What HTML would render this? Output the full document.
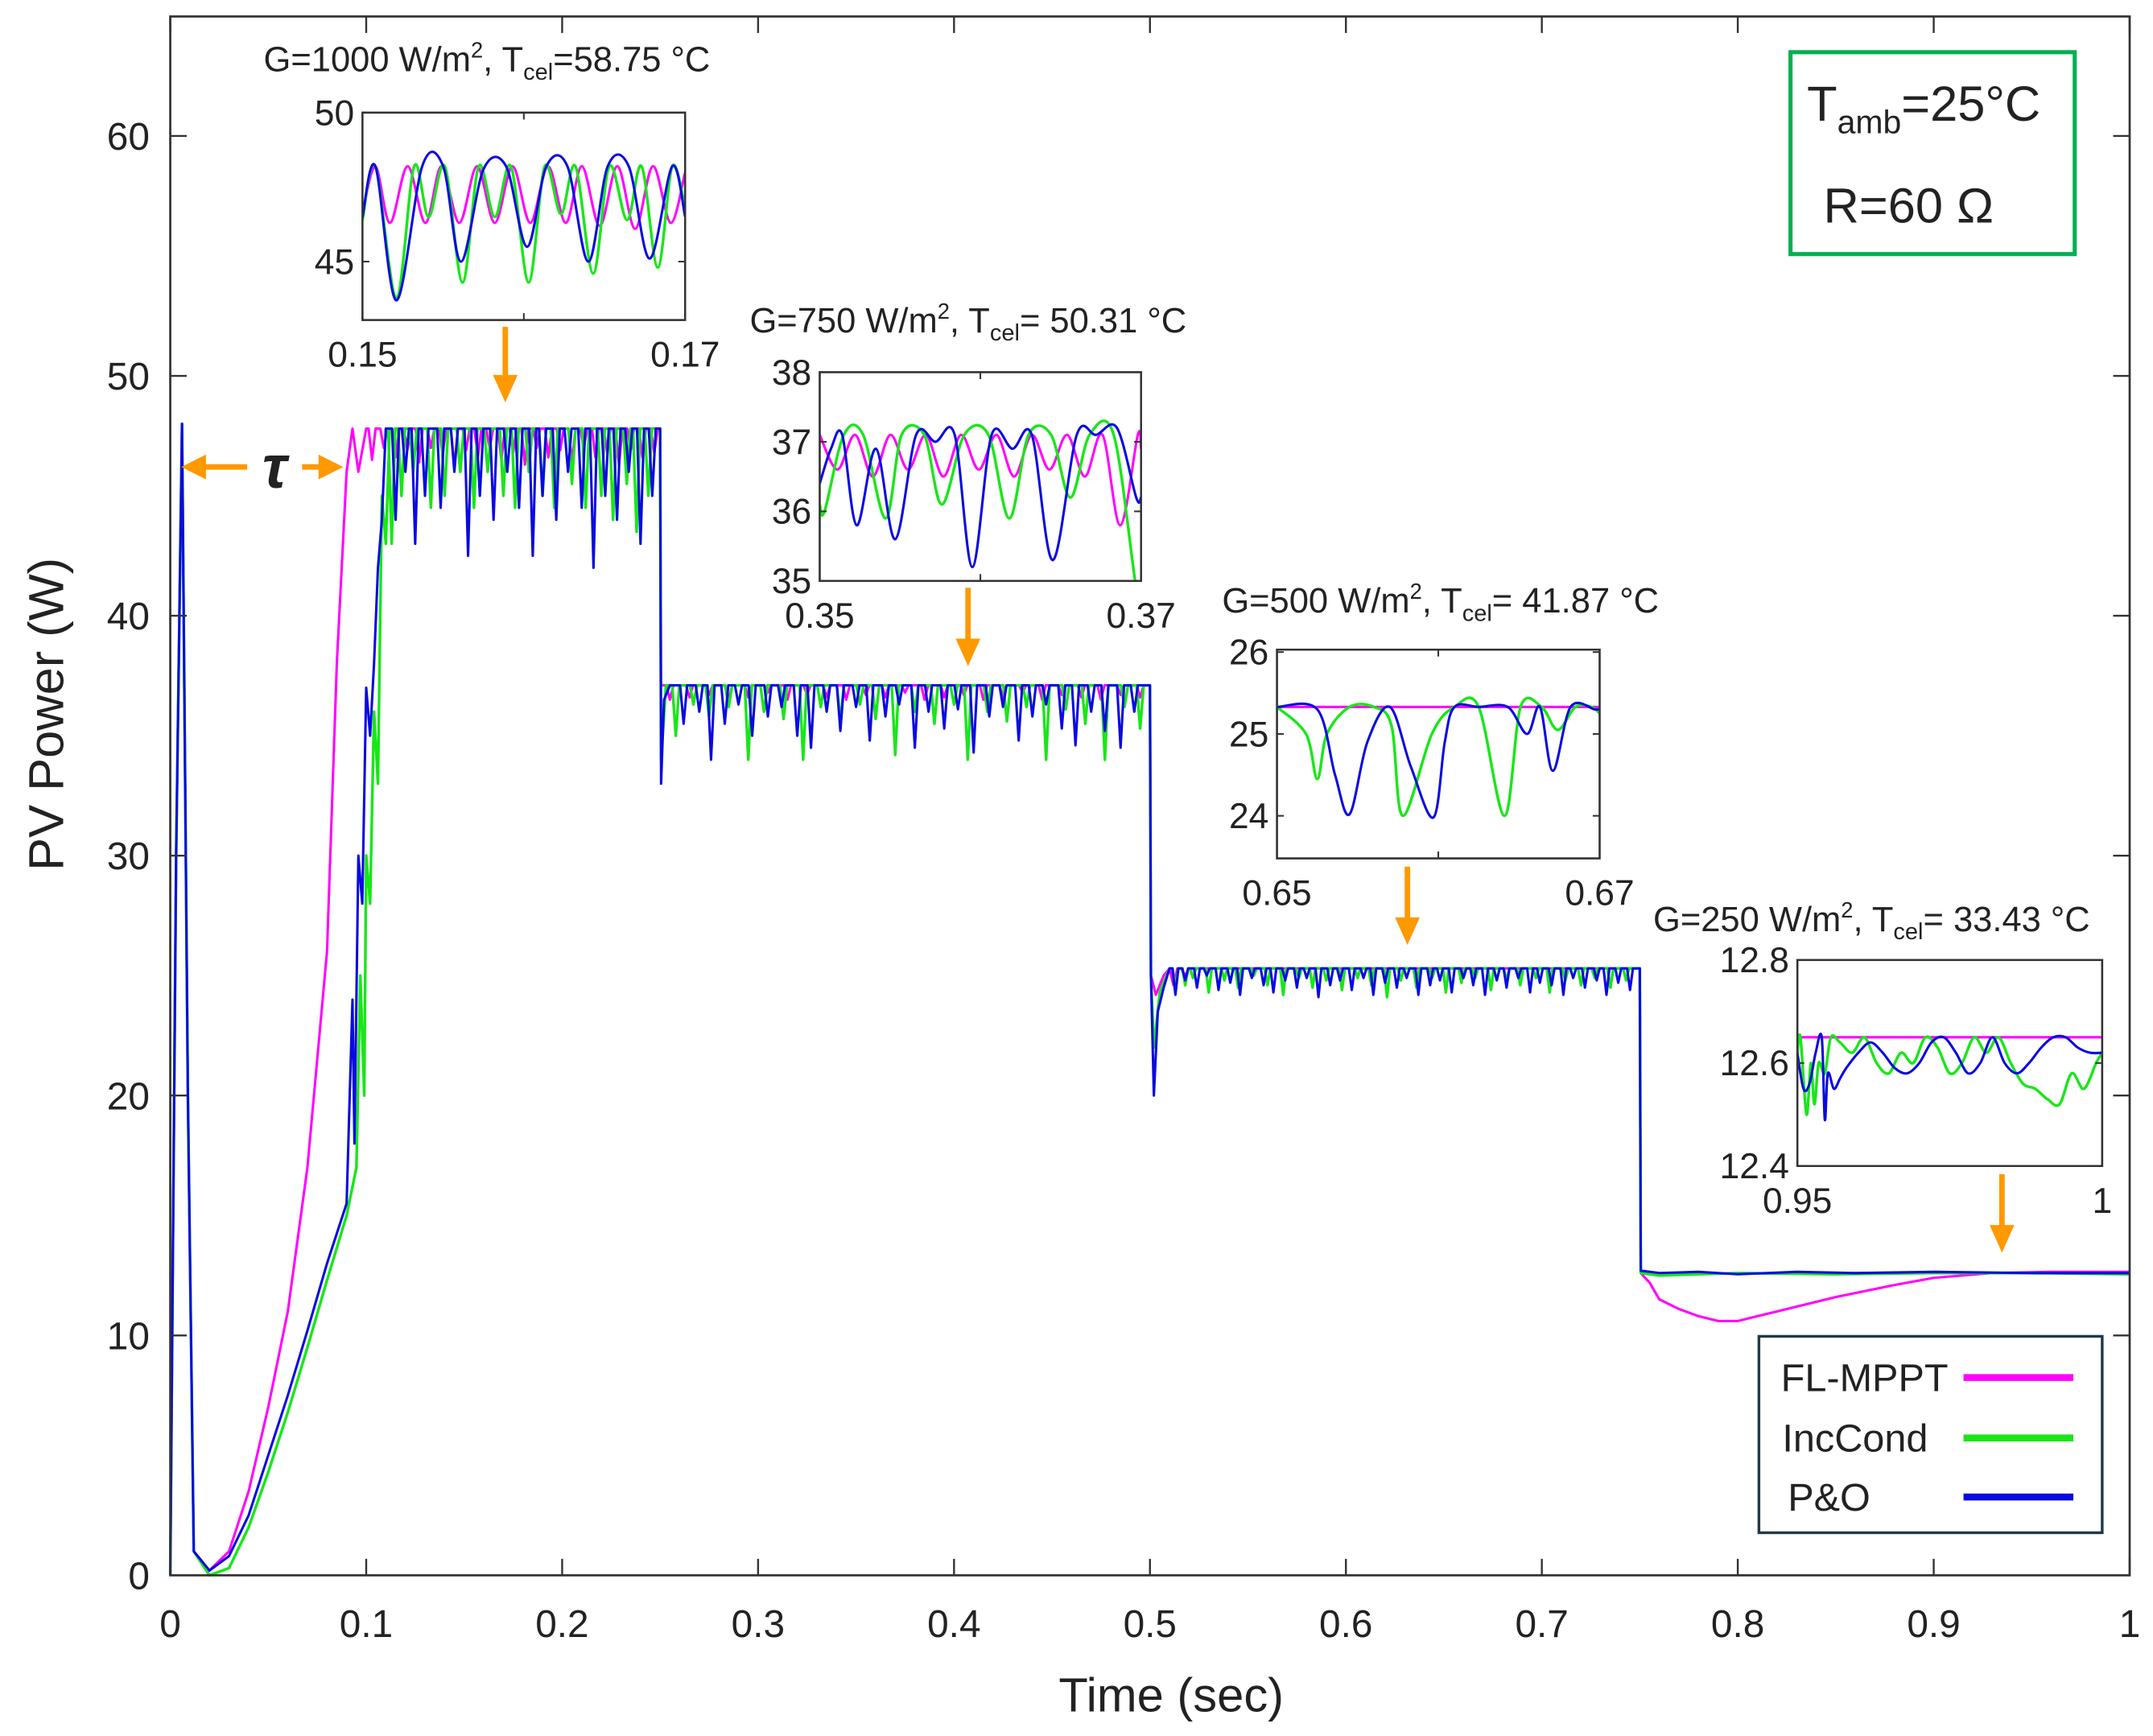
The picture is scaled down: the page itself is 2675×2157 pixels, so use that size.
<!DOCTYPE html>
<html><head><meta charset="utf-8"><style>
html,body{margin:0;padding:0;background:#fff;}
svg{display:block;}
text{font-family:"Liberation Sans",sans-serif;fill:#222;}
</style></head><body>
<svg id="chart" xmlns="http://www.w3.org/2000/svg" width="2675" height="2157" viewBox="0 0 1568 1264" preserveAspectRatio="none">
<rect x="0" y="0" width="1568" height="1264" fill="#fff"/>
<g id="main-marks"></g>
<g id="axes"></g>
<g id="insets"></g>
<text x="853" y="1246" font-size="35" text-anchor="middle">Time (sec)</text>
<text transform="translate(46,520) rotate(-90)" font-size="36" text-anchor="middle">PV Power (W)</text>
<g>
<line x1="145" y1="340" x2="180" y2="340" stroke="#ff9900" stroke-width="4"/>
<polygon points="132,340 150,331 150,349" fill="#ff9900"/>
<text x="200" y="355" font-size="44" font-style="italic" font-weight="bold" font-family="Liberation Serif,serif" text-anchor="middle">τ</text>
<line x1="220" y1="340" x2="238" y2="340" stroke="#ff9900" stroke-width="4"/>
<polygon points="250,340 232,331 232,349" fill="#ff9900"/>
</g>
<g>
<rect x="1304" y="38" width="207" height="147" fill="#fff" stroke="#00b050" stroke-width="3"/>
<text x="1316" y="88" font-size="36">T<tspan font-size="24" dy="9">amb</tspan><tspan dy="-9">=25°C</tspan></text>
<text x="1328" y="162" font-size="36">R=60 Ω</text>
</g>
<g>
<rect x="1281" y="973" width="250" height="143" fill="#fff" stroke="#1f3a4a" stroke-width="2"/>
<text x="1297" y="1013" font-size="28.5">FL-MPPT</text>
<line x1="1430" y1="1003" x2="1510" y2="1003" stroke="#ff00ff" stroke-width="5"/>
<text x="1298" y="1057" font-size="28.5">IncCond</text>
<line x1="1430" y1="1047" x2="1510" y2="1047" stroke="#19e619" stroke-width="5"/>
<text x="1302" y="1100" font-size="28.5">P&amp;O</text>
<line x1="1430" y1="1090" x2="1510" y2="1090" stroke="#0a0ae0" stroke-width="5"/>
</g>
</svg>
<script>
// ---------- main chart data ----------
const xTicks=[0,0.1,0.2,0.3,0.4,0.5,0.6,0.7,0.8,0.9,1];
const xTickLabels=["0","0.1","0.2","0.3","0.4","0.5","0.6","0.7","0.8","0.9","1"];
const yTicks=[0,10,20,30,40,50,60];
const yTickLabels=["0","10","20","30","40","50","60"];
const levels=[47.8,37.1,25.3];
// FL-MPPT
const flT=[0,0.003,0.006,0.009,0.012,0.02,0.03,0.04,0.05,0.06,0.07,0.08,0.085,0.09,0.093,0.096,0.1];
const flV=[0,30,48,20,1,0.2,1,3.5,7,11,17,26,38,46,47.8,46,47.8];
const flDip1T=[0.103,0.109,0.115,0.121,0.127,0.133,0.139,0.145,0.151,0.157,0.163,0.169,0.175,0.181,0.187,0.193,0.199,0.205,0.211,0.217,0.223,0.229,0.235,0.241,0.247];
const flDip1V=[46.5,47,46.6,46.9,46.4,47,46.7,46.2,46.9,46.6,47,46.5,46.8,46.3,47,46.6,46.9,46.4,47,46.6,46.8,46.3,46.9,46.6,46.8];
const flDip2T=[0.255,0.265,0.275,0.285,0.295,0.305,0.315,0.325,0.335,0.345,0.355,0.365,0.375,0.385,0.395,0.405,0.415,0.425,0.435,0.445,0.455,0.465,0.475,0.485,0.495];
const flDip2V=[36.5,36.6,36.7,36.5,36.6,36.8,36.5,36.7,36.6,36.5,36.7,36.6,36.8,36.5,36.6,36.7,36.5,36.6,36.8,36.5,36.7,36.6,36.5,36.7,36.6];
const flDip3T=[0.512,0.518];
const flDip3V=[24.6,25];
const flTailT=[0.75,0.7505,0.755,0.76,0.77,0.78,0.79,0.8,0.81,0.82,0.85,0.88,0.9,0.93,0.96,1];
const flTailV=[25.3,12.6,12.2,11.5,11.1,10.8,10.6,10.6,10.8,11,11.6,12.1,12.4,12.6,12.65,12.65];
// IncCond
const icT=[0,0.003,0.006,0.009,0.012,0.02,0.03,0.04,0.05,0.06,0.07,0.08,0.09,0.095,0.097,0.099,0.1,0.102,0.104,0.106,0.108,0.11,0.112];
const icV=[0,30,48,20,1,0,0.3,2,4.3,6.8,9.5,12.3,15,17,25,20,30,28,36,33,45,43,47.8];
const icDip1T=[0.113,0.118,0.124,0.133,0.14,0.148,0.155,0.162,0.17,0.176,0.183,0.19,0.196,0.205,0.212,0.22,0.226,0.233,0.238,0.244];
const icDip1V=[43,45,46,44.5,45,46,44.5,46,45,44.5,46,45,44.5,45.5,44.5,45,44,45.5,43.5,45];
const icDip2T=[0.258,0.267,0.275,0.285,0.295,0.303,0.313,0.323,0.332,0.342,0.352,0.36,0.37,0.38,0.39,0.4,0.407,0.417,0.427,0.437,0.447,0.457,0.467,0.477,0.487,0.495];
const icDip2V=[35,36.3,35.8,36.2,34,36,35.7,34,36.2,35.6,36.3,35.7,34.2,36,35.5,36.3,34,36,35.6,36.2,34,36.1,35.5,34,36.2,35.3];
const icDip3T=[0.513,0.518,0.522,0.53,0.538,0.545,0.553,0.56,0.568,0.576,0.583,0.59,0.598,0.606,0.613,0.621,0.628,0.636,0.644,0.651,0.659,0.666,0.674,0.682,0.689,0.697,0.704,0.712,0.72,0.727,0.735,0.743];
const icDip3V=[24.5,24.6,24.9,24.3,24.8,24.5,25,24.6,24.2,24.9,24.5,24.8,24.4,24.9,24.6,24.1,24.8,24.5,24.9,24.3,24.7,24.9,24.4,24.8,24.6,24.9,24.3,24.8,24.6,24.9,24.5,24.8];
const icTailT=[0.75,0.7505,0.76,0.8,0.85,0.9,0.95,1];
const icTailV=[25.3,12.6,12.5,12.6,12.55,12.6,12.6,12.55];
// P&O
const poT=[0,0.003,0.006,0.009,0.012,0.02,0.03,0.04,0.05,0.06,0.07,0.08,0.09,0.093,0.094,0.096,0.098,0.1,0.102,0.104,0.106,0.108,0.11];
const poV=[0,30,48,20,1,0.2,0.8,2.5,5,7.5,10.2,13,15.5,24,18,30,28,37,35,38,42,44,47.8];
const poDip1T=[0.115,0.12,0.125,0.13,0.138,0.145,0.152,0.158,0.165,0.172,0.178,0.185,0.19,0.197,0.203,0.21,0.216,0.222,0.228,0.234,0.24,0.246];
const poDip1V=[44,46,43,45,44.5,46,42.5,45,44,46,44.5,42.5,45,44,46,44.5,42,45,44,46,43,45];
const poDip2T=[0.262,0.27,0.276,0.283,0.29,0.297,0.305,0.312,0.32,0.327,0.335,0.342,0.35,0.357,0.365,0.372,0.38,0.387,0.395,0.402,0.41,0.418,0.425,0.433,0.44,0.447,0.455,0.462,0.47,0.477,0.485,0.492];
const poDip2V=[35.5,36,34,35.5,36.3,35,35.8,36.2,35,34.5,36,35.2,36.2,34.8,35.8,36.3,34.5,36,35.3,36.1,34.3,35.8,36.2,34.8,35.8,36.3,35.3,34.6,36,35.2,34.5,36];
const poDip3T=[0.513,0.518,0.524,0.529,0.535,0.541,0.546,0.552,0.558,0.563,0.569,0.575,0.58,0.586,0.592,0.597,0.603,0.609,0.614,0.62,0.626,0.631,0.637,0.643,0.648,0.654,0.66,0.665,0.671,0.677,0.682,0.688,0.694,0.699,0.705,0.711,0.716,0.722,0.728,0.733,0.739,0.745];
const poDip3V=[24.2,24.8,24.5,25,24.4,24.7,24.2,24.9,24.6,24.3,24.8,24.5,24.9,24.1,24.6,24.8,24.4,24.9,24.2,24.7,24.5,24.9,24.2,24.6,24.8,24.3,24.9,24.6,24.2,24.8,24.5,24.9,24.3,24.7,24.6,24.2,24.9,24.5,24.8,24.2,24.7,24.4];
const poStep2T=[0.25,0.2505,0.252,0.255];
const poStep2V=[47.8,33,36.5,37.1];
const poStep3T=[0.5,0.5005,0.502,0.504,0.507,0.51];
const poStep3V=[37.1,25,20,23.5,24.5,25.3];
const poTailT=[0.75,0.7505,0.76,0.78,0.8,0.83,0.86,0.9,0.95,1];
const poTailV=[25.3,12.7,12.6,12.65,12.55,12.65,12.6,12.65,12.6,12.6];

// ---------- main scales ----------
const X0=124,X1=1551,YB=1147,YT=12;
const sx=t=>X0+(X1-X0)*t;
const sy=v=>YB-(YB-99)*v/60;
const NS="http://www.w3.org/2000/svg";
function mk(tag,attrs,parent){const e=document.createElementNS(NS,tag);for(const k in attrs)e.setAttribute(k,attrs[k]);parent.appendChild(e);return e;}
function zip(T,V){const o=[];for(let i=0;i<Math.min(T.length,V.length);i++)o.push([T[i],V[i]]);return o;}
function plateau(t0,t1,L,dT,dV,hw){const o=[[t0,L]];zip(dT,dV).forEach(([t,v])=>{o.push([t-hw,L],[t,v],[t+hw,L]);});o.push([t1,L]);return o;}
const hw=0.0018;
const seriesFL=[].concat(zip(flT,flV),plateau(0.1,0.25,levels[0],flDip1T,flDip1V,hw),[[0.2505,levels[1]]],plateau(0.251,0.5,levels[1],flDip2T,flDip2V,hw),[[0.5005,25],[0.503,24.2],[0.507,25]],plateau(0.51,0.75,levels[2],flDip3T,flDip3V,0.002),zip(flTailT,flTailV));
const seriesIC=[].concat(zip(icT,icV),plateau(0.112,0.25,levels[0],icDip1T,icDip1V,hw),[[0.2505,34],[0.253,37.1]],plateau(0.253,0.5,levels[1],icDip2T,icDip2V,hw),[[0.5005,25],[0.502,22],[0.505,24.3],[0.51,25.3]],plateau(0.51,0.75,levels[2],icDip3T,icDip3V,0.0015),zip(icTailT,icTailV));
const seriesPO=[].concat(zip(poT,poV),plateau(0.11,0.25,levels[0],poDip1T,poDip1V,hw),zip(poStep2T,poStep2V),plateau(0.255,0.5,levels[1],poDip2T,poDip2V,hw),zip(poStep3T,poStep3V),plateau(0.51,0.75,levels[2],poDip3T,poDip3V,0.0015),zip(poTailT,poTailV));

const gm=document.getElementById('main-marks');
function pathD(pts,fx,fy,smooth){
  const P=pts.map(p=>[fx(p[0]),fy(p[1])]);
  if(!smooth) return P.map((p,i)=>(i?'L':'M')+p[0].toFixed(2)+' '+p[1].toFixed(2)).join('');
  let d='M'+P[0][0].toFixed(2)+' '+P[0][1].toFixed(2);
  for(let i=0;i<P.length-1;i++){
    const p0=P[Math.max(0,i-1)],p1=P[i],p2=P[i+1],p3=P[Math.min(P.length-1,i+2)];
    const c1=[p1[0]+(p2[0]-p0[0])/6,p1[1]+(p2[1]-p0[1])/6];
    const c2=[p2[0]-(p3[0]-p1[0])/6,p2[1]-(p3[1]-p1[1])/6];
    d+='C'+c1[0].toFixed(2)+' '+c1[1].toFixed(2)+' '+c2[0].toFixed(2)+' '+c2[1].toFixed(2)+' '+p2[0].toFixed(2)+' '+p2[1].toFixed(2);
  }
  return d;
}
function drawLine(pts,fx,fy,color,w,name,parent,smooth){
  const el=mk('path',{d:pathD(pts,fx,fy,smooth),fill:'none',stroke:color,'stroke-width':w,'stroke-linejoin':'round'},parent);
  
  
}
drawLine(seriesFL,sx,sy,'#ff00ff',1.8,'fl-mppt-line',gm,false);
drawLine(seriesIC,sx,sy,'#19e619',2,'inccond-line',gm,false);
drawLine(seriesPO,sx,sy,'#0a0ae0',1.8,'po-line',gm,false);

// axes
const ga=document.getElementById('axes');
mk('rect',{x:X0,y:YT,width:X1-X0,height:YB-YT,fill:'none',stroke:'#333','stroke-width':1.6},ga);
xTicks.forEach((t,i)=>{
  mk('line',{x1:sx(t),y1:YB,x2:sx(t),y2:YB-12,stroke:'#333','stroke-width':1.4},ga);
  mk('line',{x1:sx(t),y1:YT,x2:sx(t),y2:YT+12,stroke:'#333','stroke-width':1.4},ga);
  const tx=mk('text',{x:sx(t),y:1192,'font-size':28,'text-anchor':'middle'},ga);tx.textContent=xTickLabels[i];
  
  
});
yTicks.forEach((v,i)=>{
  mk('line',{x1:X0,y1:sy(v),x2:X0+12,y2:sy(v),stroke:'#333','stroke-width':1.4},ga);
  mk('line',{x1:X1,y1:sy(v),x2:X1-12,y2:sy(v),stroke:'#333','stroke-width':1.4},ga);
  const tx=mk('text',{x:109,y:sy(v)+10,'font-size':28,'text-anchor':'end'},ga);tx.textContent=yTickLabels[i];
  
  
});

// ---------- insets data ----------
const in1FlT=[0.15,0.1508,0.1517,0.1528,0.1539,0.1549,0.156,0.1571,0.1582,0.1593,0.1604,0.1615,0.1626,0.1636,0.1647,0.1658,0.1669,0.168,0.1691,0.17];
const in1FlV=[46.6,48.2,46.3,48.2,46.3,48.2,46.3,48.2,46.3,48.2,46.3,48.2,46.3,48.2,46.2,48.2,46.1,48.2,46.3,48];
const in1IcT=[0.15,0.1508,0.1521,0.1532,0.1541,0.1551,0.1562,0.1572,0.1582,0.1592,0.1603,0.1613,0.1623,0.1632,0.1643,0.1653,0.1664,0.1673,0.1683,0.1692,0.17];
const in1IcV=[46.4,48.2,43.8,48.2,46.5,48.2,44.3,48.2,46.5,48.2,44.3,48.2,46.6,48.2,44.6,48.2,46.4,48.2,44.8,48.2,46.8];
const in1PoT=[0.15,0.1508,0.1521,0.1537,0.155,0.1561,0.1575,0.1589,0.1602,0.1614,0.1627,0.164,0.1652,0.1665,0.1678,0.1692,0.17];
const in1PoV=[46.5,48.2,43.7,48.2,48.2,45,48.1,48.2,45.5,48.2,48.2,45,48.2,48.2,45.1,48.2,46.5];
const in2FlT=[0.35,0.3511,0.3522,0.3533,0.3544,0.3555,0.3566,0.3577,0.3588,0.3599,0.361,0.3621,0.3632,0.3643,0.3654,0.3665,0.3676,0.3687,0.3698,0.37];
const in2FlV=[37.1,36.6,37.1,36.5,37.1,36.6,37.1,36.5,37.1,36.6,37.1,36.5,37.1,36.6,37.1,36.5,37.1,35.8,37.1,36.9];
const in2IcT=[0.35,0.3503,0.3515,0.3527,0.3541,0.3551,0.3565,0.3576,0.359,0.3605,0.3618,0.363,0.3644,0.3656,0.3668,0.3683,0.3697,0.37];
const in2IcV=[36.1,36,37.1,37.1,35.9,37.1,37.1,36.1,37.1,37.1,35.9,37.1,37.1,36.2,37.1,37.1,34.9,34.9];
const in2PoT=[0.35,0.3507,0.3514,0.3523,0.3535,0.3547,0.356,0.3572,0.3584,0.3595,0.3607,0.362,0.3632,0.3645,0.366,0.3672,0.3685,0.3697,0.37];
const in2PoV=[36.4,36.9,37.1,35.8,36.9,35.6,37.1,37,37.1,35.2,37.1,36.9,37.1,35.3,37.1,37.1,37.2,36.2,36.2];
const in3FlT=[0.65,0.67];
const in3FlV=[25.33,25.33];
const in3IcT=[0.65,0.6518,0.6525,0.6531,0.6545,0.656,0.6571,0.6578,0.6596,0.661,0.6625,0.6641,0.6651,0.6664,0.6674,0.6685,0.6695,0.67];
const in3IcV=[25.33,25.0,24.45,25.0,25.33,25.33,25.1,24.0,25.0,25.33,25.33,24.0,25.33,25.33,25.05,25.33,25.33,25.25];
const in3PoT=[0.65,0.6525,0.6536,0.6545,0.6556,0.657,0.6583,0.6597,0.6604,0.661,0.6625,0.6643,0.6655,0.6663,0.6671,0.6682,0.6697,0.67];
const in3PoV=[25.33,25.3,24.5,24.02,24.9,25.33,24.6,23.98,24.9,25.33,25.33,25.33,25.0,25.33,24.55,25.33,25.3,25.3];
const in4FlT=[0.95,1];
const in4FlV=[12.65,12.65];
const in4IcT=[0.95,0.9505,0.9515,0.9522,0.9528,0.9535,0.9545,0.9555,0.957,0.959,0.961,0.963,0.965,0.967,0.969,0.971,0.973,0.975,0.977,0.979,0.981,0.983,0.985,0.987,0.989,0.991,0.993,0.995,0.997,0.999,1];
const in4IcV=[12.62,12.65,12.5,12.6,12.52,12.6,12.58,12.65,12.64,12.62,12.65,12.6,12.58,12.62,12.6,12.65,12.63,12.58,12.6,12.65,12.62,12.65,12.6,12.56,12.55,12.53,12.52,12.58,12.55,12.6,12.62];
const in4PoT=[0.95,0.951,0.952,0.953,0.954,0.9545,0.955,0.956,0.957,0.958,0.96,0.962,0.964,0.966,0.968,0.97,0.972,0.974,0.976,0.978,0.98,0.982,0.984,0.986,0.988,0.99,0.992,0.994,0.996,0.998,1];
const in4PoV=[12.62,12.55,12.56,12.62,12.65,12.49,12.58,12.55,12.57,12.59,12.62,12.64,12.62,12.59,12.58,12.6,12.64,12.65,12.62,12.58,12.6,12.65,12.6,12.58,12.6,12.63,12.65,12.65,12.63,12.62,12.62];

const insets=[
 {name:'inset-1000',box:[264,82,499,233],x:[0.15,0.17],y:[43.04,50],xt:[0.15,0.16,0.17],xl:['0.15','','0.17'],yt:[45,50],yl:['45','50'],
  title:['G=1000 W/m','2',', T','cel','=58.75 °C'],tx:192,ty:52,arrow:[368,238,293],
  fl:[in1FlT,in1FlV],ic:[in1IcT,in1IcV],po:[in1PoT,in1PoV]},
 {name:'inset-750',box:[597,271,831,423],x:[0.35,0.37],y:[35,38],xt:[0.35,0.36,0.37],xl:['0.35','','0.37'],yt:[35,36,37,38],yl:['35','36','37','38'],
  title:['G=750 W/m','2',', T','cel','= 50.31 °C'],tx:546,ty:242,arrow:[705,428,485],
  fl:[in2FlT,in2FlV],ic:[in2IcT,in2IcV],po:[in2PoT,in2PoV]},
 {name:'inset-500',box:[930,473,1165,625],x:[0.65,0.67],y:[23.48,26.03],xt:[0.65,0.66,0.67],xl:['0.65','','0.67'],yt:[24,25,26],yl:['24','25','26'],
  title:['G=500 W/m','2',', T','cel','= 41.87 °C'],tx:890,ty:446,arrow:[1025,631,688],
  fl:[in3FlT,in3FlV],ic:[in3IcT,in3IcV],po:[in3PoT,in3PoV]},
 {name:'inset-250',box:[1309,699,1531,849],x:[0.95,1],y:[12.4,12.8],xt:[0.95,1],xl:['0.95','1'],yt:[12.4,12.6,12.8],yl:['12.4','12.6','12.8'],
  title:['G=250 W/m','2',', T','cel','= 33.43 °C'],tx:1204,ty:678,arrow:[1458,855,912],
  fl:[in4FlT,in4FlV],ic:[in4IcT,in4IcV],po:[in4PoT,in4PoV]}
];
const gi=document.getElementById('insets');
insets.forEach(ins=>{
  const g=mk('g',{},gi);
  
  
  const [bx0,by0,bx1,by1]=ins.box;
  const fx=t=>bx0+(bx1-bx0)*(t-ins.x[0])/(ins.x[1]-ins.x[0]);
  const fy=v=>by1-(by1-by0)*(v-ins.y[0])/(ins.y[1]-ins.y[0]);
  mk('rect',{x:bx0,y:by0,width:bx1-bx0,height:by1-by0,fill:'#fff',stroke:'#333','stroke-width':1.4},g);
  const clipId='clip-'+ins.name;
  const cp=mk('clipPath',{id:clipId},g);mk('rect',{x:bx0,y:by0,width:bx1-bx0,height:by1-by0},cp);
  const lg=mk('g',{'clip-path':'url(#'+clipId+')'},g);
  drawLine(zip(ins.fl[0],ins.fl[1]),fx,fy,'#ff00ff',1.8,'inset-fl-mppt-line',lg,true);
  drawLine(zip(ins.ic[0],ins.ic[1]),fx,fy,'#19e619',2,'inset-inccond-line',lg,true);
  drawLine(zip(ins.po[0],ins.po[1]),fx,fy,'#0a0ae0',1.8,'inset-po-line',lg,true);
  mk('rect',{x:bx0,y:by0,width:bx1-bx0,height:by1-by0,fill:'none',stroke:'#333','stroke-width':1.4},g);
  ins.xt.forEach((t,i)=>{
    mk('line',{x1:fx(t),y1:by1,x2:fx(t),y2:by1-5,stroke:'#333','stroke-width':1.2},g);
    mk('line',{x1:fx(t),y1:by0,x2:fx(t),y2:by0+5,stroke:'#333','stroke-width':1.2},g);
    if(ins.xl[i]){const tx=mk('text',{x:fx(t),y:by1+34,'font-size':26,'text-anchor':'middle'},g);tx.textContent=ins.xl[i];
    
    }
  });
  ins.yt.forEach((v,i)=>{
    mk('line',{x1:bx0,y1:fy(v),x2:bx0+5,y2:fy(v),stroke:'#333','stroke-width':1.2},g);
    mk('line',{x1:bx1,y1:fy(v),x2:bx1-5,y2:fy(v),stroke:'#333','stroke-width':1.2},g);
    const tx=mk('text',{x:bx0-6,y:fy(v)+9,'font-size':26,'text-anchor':'end'},g);tx.textContent=ins.yl[i];
    
    
  });
  const tt=mk('text',{x:ins.tx,y:ins.ty,'font-size':25.5},g);
  
  
  const p=ins.title;
  const s1=mk('tspan',{},tt);s1.textContent=p[0];
  const s2=mk('tspan',{dy:-10,'font-size':16},tt);s2.textContent=p[1];
  const s3=mk('tspan',{dy:10},tt);s3.textContent=p[2];
  const s4=mk('tspan',{dy:6,'font-size':17},tt);s4.textContent=p[3];
  const s5=mk('tspan',{dy:-6},tt);s5.textContent=p[4];
  const [ax,ay0,ay1]=ins.arrow;
  const ag=mk('g',{},g);
  
  
  mk('line',{x1:ax,y1:ay0,x2:ax,y2:ay1-18,stroke:'#ff9900','stroke-width':4},ag);
  mk('polygon',{points:(ax-9)+','+(ay1-20)+' '+(ax+9)+','+(ay1-20)+' '+ax+','+ay1,fill:'#ff9900'},ag);
});
</script>
</body></html>
